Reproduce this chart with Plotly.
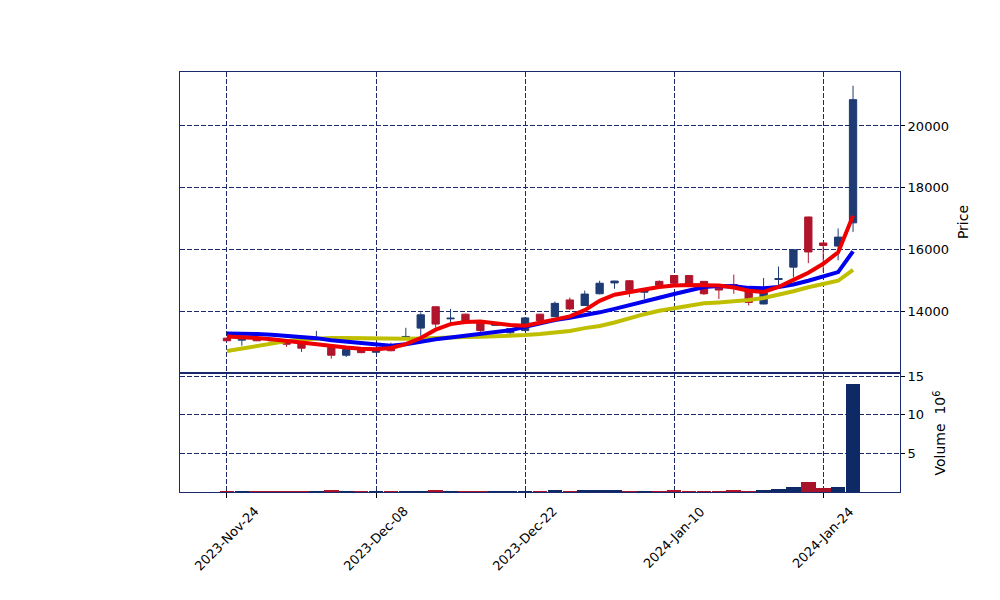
import plotly.graph_objects as go

# ---- data ----
idx = list(range(43))
tick_pos = [0, 10, 20, 30, 40]
tick_labels = ["2023-Nov-24", "2023-Dec-08", "2023-Dec-22", "2024-Jan-10", "2024-Jan-24"]

opens = [13146, 13081, 13160, 13100, 13003, 12971, 13120, 12841, 12594, 12789,
         12690, 12820, 13170, 13470, 14160, 13770, 13920, 13680, 13560, 13320,
         13390, 13920, 13840, 14380, 14200, 14580, 14930, 15000, 14630, 14980,
         15170, 15170, 14980, 14760, 14880, 14680, 14250, 15040, 15440, 17060,
         16220, 16120, 16870]
highs = [13160, 13200, 13170, 13120, 13010, 12975, 13380, 12850, 12780, 12795,
         12790, 13000, 13480, 13980, 14170, 14090, 13940, 13690, 13640, 13460,
         13830, 13930, 14330, 14460, 14680, 15000, 15000, 15020, 14745, 15010,
         15175, 15175, 14990, 14770, 15200, 14690, 15090, 15460, 16010, 17070,
         16230, 16690, 21300]
lows = [13060, 12900, 13050, 13040, 12864, 12700, 13100, 12484, 12539, 12660,
        12680, 12720, 13150, 13220, 13490, 13600, 13600, 13350, 13540, 13280,
        13370, 13650, 13830, 14050, 14190, 14560, 14740, 14470, 14410, 14840,
        14900, 14850, 14540, 14410, 14580, 14200, 14240, 14850, 15110, 15570,
        15280, 15660, 16580]
closes = [13060, 13190, 13060, 13060, 12950, 12821, 13150, 12594, 12776, 12678,
          12780, 12740, 13200, 13900, 13600, 13790, 13650, 13390, 13620, 13450,
          13800, 13710, 14270, 14090, 14570, 14920, 14990, 14690, 14740, 14850,
          14920, 14880, 14580, 14700, 14850, 14300, 14630, 15070, 16000, 15930,
          16140, 16410, 20850]
volume_m = [0.04, 0.03, 0.03, 0.03, 0.03, 0.05, 0.15, 0.20, 0.12, 0.05,
            0.05, 0.08, 0.15, 0.18, 0.25, 0.15, 0.15, 0.06, 0.05, 0.12,
            0.15, 0.15, 0.22, 0.15, 0.25, 0.32, 0.22, 0.08, 0.07, 0.10,
            0.22, 0.08, 0.10, 0.08, 0.20, 0.10, 0.22, 0.33, 0.70, 1.36,
            0.50, 0.60, 14.05]
ma_short = [13200, 13190, 13150, 13110, 13050, 13000, 12950, 12880, 12840, 12800,
            12790, 12830, 12950, 13150, 13420, 13600, 13670, 13680, 13620, 13570,
            13550, 13650, 13760, 13850, 14050, 14350, 14550, 14650, 14720, 14800,
            14850, 14860, 14860, 14850, 14780, 14680, 14640, 14800, 15030, 15260,
            15550, 15920, 17100]
ma_mid = [13300, 13300, 13280, 13255, 13220, 13180, 13146, 13081, 13036, 13000,
          12950, 12900, 12950, 13040, 13110, 13165, 13220, 13280, 13330, 13400,
          13510, 13620, 13730, 13800, 13880, 13980, 14090, 14220, 14340, 14450,
          14570, 14700, 14800, 14830, 14820, 14770, 14760, 14800, 14880, 15000,
          15130, 15280, 15950]
ma_long = [12730, 12810, 12910, 12990, 13050, 13100, 13140, 13150, 13150, 13140,
           13120, 13115, 13125, 13135, 13160, 13170, 13180, 13190, 13200, 13220,
           13245, 13280, 13320, 13380, 13470, 13540, 13650, 13790, 13920, 14030,
           14120, 14210, 14270, 14300, 14335, 14380, 14445, 14540, 14660, 14790,
           14900, 15000, 15350]

# ---- styles ----
UP = "#1f3b73"
DOWN = "#b0152c"
VUP = "#0e2a66"
VDOWN = "#a8132a"
FRAME = "#1a2a6c"
GRID = "#1a2a6c"
FONT = "DejaVu Sans"

vol_colors = [VUP if c >= o else VDOWN for o, c in zip(opens, closes)]

fig = go.Figure()
fig.add_trace(go.Candlestick(
    x=idx, open=opens, high=highs, low=lows, close=closes,
    increasing=dict(line=dict(color=UP, width=1), fillcolor=UP),
    decreasing=dict(line=dict(color=DOWN, width=1), fillcolor=DOWN),
    whiskerwidth=0, xaxis="x", yaxis="y", showlegend=False, hoverinfo="skip"))
for vals, col in [(ma_long, "#bfbf00"), (ma_mid, "#0000ee"), (ma_short, "#ee0000")]:
    fig.add_trace(go.Scatter(x=idx, y=vals, mode="lines",
                             line=dict(color=col, width=4),
                             xaxis="x", yaxis="y", showlegend=False, hoverinfo="skip"))
fig.add_trace(go.Bar(x=idx, y=volume_m, marker=dict(color=vol_colors, line=dict(width=0)),
                     width=0.98, xaxis="x2", yaxis="y2", showlegend=False, hoverinfo="skip"))

xrange = [-3.15, 45.15]
common_axis = dict(showline=True, linecolor=FRAME, linewidth=1, mirror=True,
                   showgrid=True, gridcolor=GRID, griddash="5px,2px", gridwidth=1,
                   zeroline=False)

fig.update_layout(
    width=1000, height=600,
    margin=dict(l=180, r=100, t=72, b=108),
    paper_bgcolor="white", plot_bgcolor="white",
    font=dict(family=FONT, size=13, color="black"),
    bargap=0,
    xaxis=dict(domain=[0, 1], range=xrange, anchor="y",
               tickvals=tick_pos, showticklabels=False,
               ticks="", rangeslider=dict(visible=False), **common_axis),
    yaxis=dict(domain=[0.2857, 1], range=[12052, 21744], side="right", anchor="x",
               tickvals=[14000, 16000, 18000, 20000], tickformat="d",
               ticks="outside", ticklen=4, tickcolor="black",
               title=dict(text="Price", standoff=10, font=dict(size=14)), **common_axis),
    xaxis2=dict(domain=[0, 1], range=xrange, anchor="y2", matches="x",
                tickvals=tick_pos, showticklabels=False,
                ticks="outside", ticklen=5, tickcolor="black", **common_axis),
    yaxis2=dict(domain=[0, 0.281], range=[0, 15.3], side="right", anchor="x2",
                tickvals=[5, 10, 15], ticks="outside", ticklen=4, tickcolor="black",
                title=dict(text="Volume  10<sup>6</sup>", standoff=12, font=dict(size=14)),
                **common_axis),
)

for pos, lab in zip(tick_pos, tick_labels):
    fig.add_annotation(x=pos, xref="x2", y=0, yref="paper", yshift=-9,
                       text=lab, textangle=-45, showarrow=False,
                       xanchor="center", yanchor="top",
                       font=dict(family=FONT, size=13, color="black"))

fig.write_html("out.html")
